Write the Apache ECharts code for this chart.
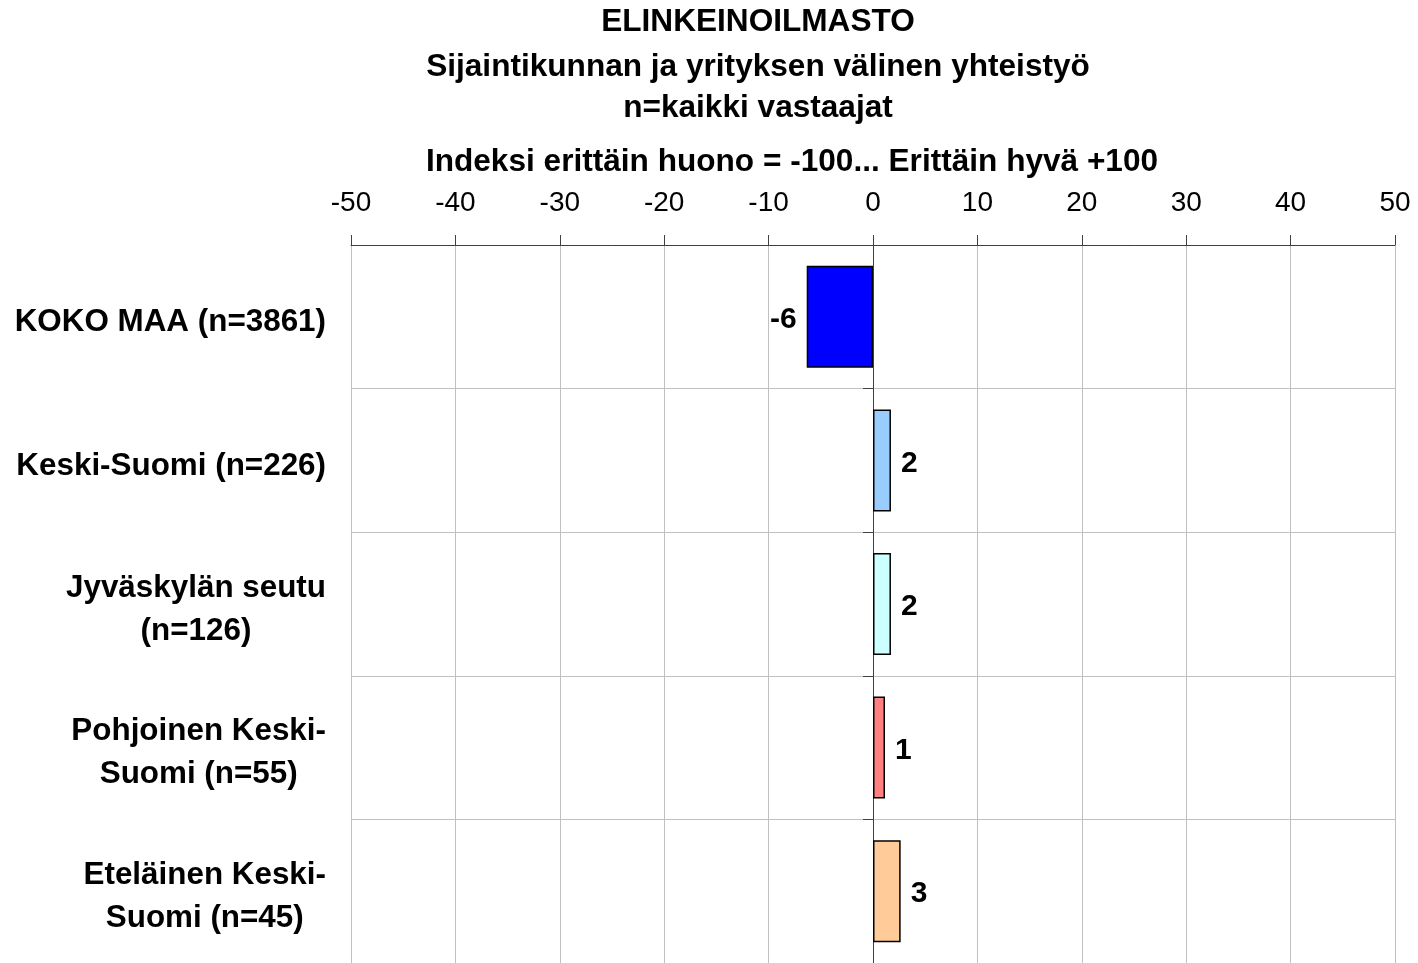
<!DOCTYPE html>
<html>
<head>
<meta charset="utf-8">
<script src="https://cdn.jsdelivr.net/npm/echarts@6/dist/echarts.min.js"></script>
<style>
    * { margin: 0; padding: 0; }
    html, body { background: #ffffff; }
    #chart { width: 1418px; height: 963px; }
</style>
</head>
<body>
<div id="chart"></div>
<script>
// alueet ja indeksiarvot (luettu kuvasta)
const categories = [
    'KOKO MAA (n=3861)',
    'Keski-Suomi (n=226)',
    'Jyväskylän seutu\n(n=126)',
    'Pohjoinen Keski-\nSuomi (n=55)',
    'Eteläinen Keski-\nSuomi (n=45)'
];
const values = [-6.35, 1.72, 1.72, 1.15, 2.65];
const barColors = ['#0000FF', '#99CCFF', '#CCFFFF', '#FF8080', '#FFCC99'];
const xTicks = [-50, -40, -30, -20, -10, 0, 10, 20, 30, 40, 50];

const FONT = '"Liberation Sans", Arial, sans-serif';
const GRID_LEFT = 351, GRID_RIGHT = 23, CHART_W = 1418;

const chart = echarts.init(document.getElementById('chart'));

// nollaviivan siirto oikeasta reunasta (pikseleinä)
const plotW = CHART_W - GRID_LEFT - GRID_RIGHT;
const zeroOffset = -plotW * (xTicks[xTicks.length - 1] - 0) / (xTicks[xTicks.length - 1] - xTicks[0]);

const titleStyle = (text) => ({ text: text, align: 'center', verticalAlign: 'middle', font: 'bold 31.6px ' + FONT, fill: '#000' });

const option = {
    backgroundColor: '#ffffff',
    animation: false,
    graphic: [
        { type: 'text', x: 758, y: 22, style: titleStyle('ELINKEINOILMASTO') },
        { type: 'text', x: 758, y: 67, style: titleStyle('Sijaintikunnan ja yrityksen välinen yhteistyö') },
        { type: 'text', x: 758, y: 108, style: titleStyle('n=kaikki vastaajat') },
        { type: 'text', x: 792, y: 162, style: titleStyle('Indeksi erittäin huono = -100... Erittäin hyvä +100') }
    ],
    grid: {
        left: GRID_LEFT,
        right: GRID_RIGHT,
        top: 245,
        height: 720
    },
    xAxis: {
        type: 'value',
        position: 'top',
        min: xTicks[0],
        max: xTicks[xTicks.length - 1],
        interval: 10,
        axisLine: { show: true, lineStyle: { color: '#404040', width: 1 } },
        axisTick: { show: true, length: 10, lineStyle: { color: '#404040' } },
        axisLabel: {
            margin: 28,
            fontSize: 28,
            fontFamily: FONT,
            color: '#000'
        },
        splitLine: { show: true, lineStyle: { color: '#c0c0c0', width: 1 } }
    },
    yAxis: [
        {
            type: 'category',
            data: categories,
            inverse: true,
            axisLine: { show: false },
            axisTick: { show: false },
            splitLine: { show: true, lineStyle: { color: '#c0c0c0', width: 1 } },
            axisLabel: {
                margin: 25,
                align: 'right',
                padding: [11, 0, 0, 0],
                fontSize: 31.4,
                fontWeight: 'bold',
                fontFamily: FONT,
                color: '#000',
                lineHeight: 43,
                formatter: (v) => v.split('\n').map(l => '{c|' + l + '}').join('\n'),
                rich: {
                    c: { align: 'center', fontSize: 31.4, fontWeight: 'bold', fontFamily: FONT, lineHeight: 43, color: '#000' }
                }
            }
        },
        {
            // nollaviiva
            type: 'category',
            data: categories,
            inverse: true,
            position: 'right',
            offset: zeroOffset,
            axisLine: { show: true, onZero: false, lineStyle: { color: '#404040', width: 1 } },
            axisTick: { show: true, inside: true, length: 10, lineStyle: { color: '#404040' } },
            axisLabel: { show: false },
            splitLine: { show: false }
        }
    ],
    series: [{
        type: 'bar',
        yAxisIndex: 0,
        barWidth: 102,
        data: values.map((v, i) => ({
            value: v,
            itemStyle: { color: barColors[i] },
            label: v < 0 ? { position: 'left' } : undefined
        })),
        itemStyle: { borderColor: '#000', borderWidth: 1.5 },
        label: {
            show: true,
            position: 'right',
            distance: 10,
            offset: [0, 3],
            fontSize: 30,
            fontWeight: 'bold',
            fontFamily: FONT,
            color: '#000',
            formatter: (p) => String(Math.round(p.value))
        },
        z: 1
    }]
};

chart.setOption(option);
</script>
</body>
</html>
